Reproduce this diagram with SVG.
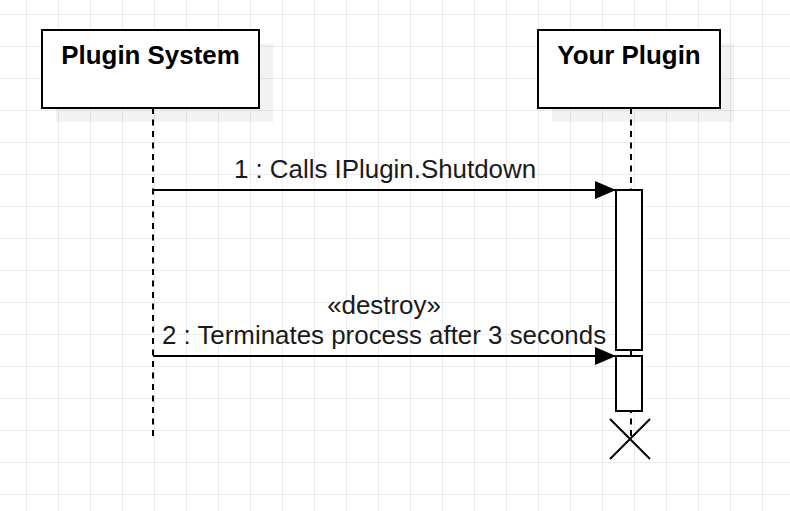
<svg xmlns="http://www.w3.org/2000/svg" width="790" height="511" viewBox="0 0 790 511">
<defs>
<pattern id="grid" x="26" y="14" width="32" height="32" patternUnits="userSpaceOnUse">
<path d="M0 0H32M0 0V32" fill="none" stroke="#ebebeb" stroke-width="2"/>
</pattern>
<marker id="block" viewBox="0 0 21 18" refX="21" refY="9" markerWidth="21" markerHeight="18" markerUnits="userSpaceOnUse" orient="auto">
<path d="M0 0L21 9L0 18Z" fill="#000"/>
</marker>
</defs>
<style>
.box{fill:#fff;stroke:#000;stroke-width:2}
.shadow{fill:#000;fill-opacity:0.05}
.life{stroke:#000;stroke-width:2;stroke-dasharray:6 5.5;fill:none}
.msg{stroke:#000;stroke-width:2;fill:none;marker-end:url(#block)}
.title{font-family:"Liberation Sans",Arial,sans-serif;font-weight:bold;font-size:25.9px;text-anchor:middle;fill:#000}
.label{font-family:"Liberation Sans",Arial,sans-serif;font-size:25.9px;text-anchor:middle;fill:#1a1a1a}
</style>
<rect width="790" height="511" fill="#fff"/>
<rect width="790" height="511" fill="url(#grid)"/>
<g id="plugin-system">
<rect class="shadow" x="56" y="44" width="217" height="78"/>
<rect class="box" x="42" y="30" width="217" height="78"/>
<text class="title" x="150.5" y="64">Plugin System</text>
<line class="life" x1="153" y1="108" x2="153" y2="440"/>
</g>
<g id="your-plugin">
<rect class="shadow" x="552" y="44" width="182" height="78"/>
<rect class="box" x="538" y="30" width="182" height="78"/>
<text class="title" x="629" y="64">Your Plugin</text>
<line class="life" x1="631" y1="108" x2="631" y2="438"/>
</g>
<g id="activation-1">
<rect class="box" x="616" y="190" width="26" height="160"/>
</g>
<g id="activation-2">
<rect class="box" x="616" y="356" width="26" height="55"/>
</g>
<g id="destroy-mark">
<path d="M610 419L650 459M650 419L610 459" stroke="#000" stroke-width="2" fill="none"/>
</g>
<g id="connectors">
<line class="msg" x1="153" y1="190" x2="616" y2="190"/>
<text class="label" x="385" y="177.5">1 : Calls IPlugin.Shutdown</text>
<line class="msg" x1="153" y1="356" x2="616" y2="356"/>
<text class="label" x="384" y="313.5">«destroy»</text>
<text class="label" x="384" y="343.5">2 : Terminates process after 3 seconds</text>
</g>
</svg>
